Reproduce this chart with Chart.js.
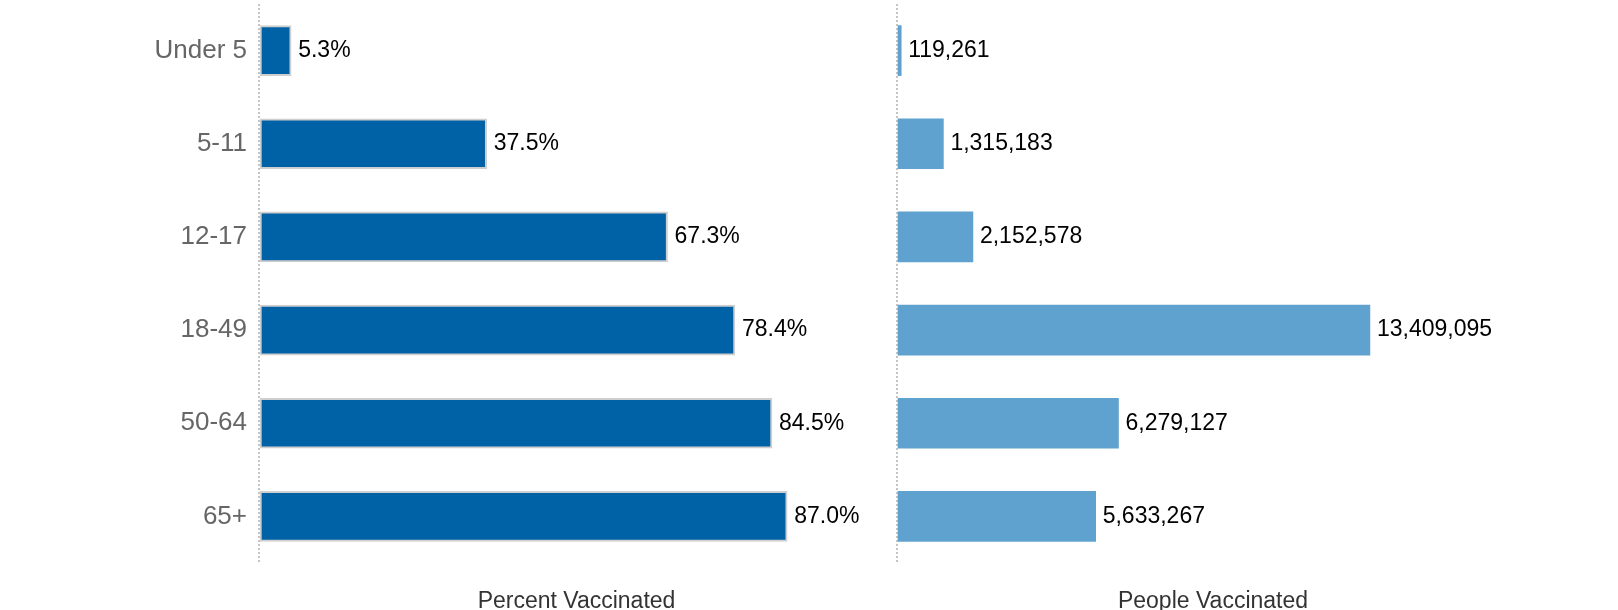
<!doctype html>
<html>

<head>
    <title>Vaccination by age</title>
    <script src="https://cdn.jsdelivr.net/npm/chart.js@4.4.1/dist/chart.umd.min.js"></script>
    <style>
        body { margin: 0; background: #fff; }
        #wrap { position: relative; width: 1618px; height: 610px; }
        #pctBox { position: absolute; left: 0; top: 0; width: 894px; height: 610px; }
        #pplBox { position: absolute; left: 887px; top: 0; width: 642px; height: 610px; }
    </style>
</head>

<body>
    <div id="wrap">
        <div id="pctBox"><canvas id="pctChart"></canvas></div>
        <div id="pplBox"><canvas id="pplChart"></canvas></div>
    </div>
    <script>
        var AGES = ['Under 5', '5-11', '12-17', '18-49', '50-64', '65+'];
        var PERCENT = [5.3, 37.5, 67.3, 78.4, 84.5, 87.0];
        var PEOPLE = [119261, 1315183, 2152578, 13409095, 6279127, 5633267];

        var FONT = "'Liberation Sans', Arial, Helvetica, sans-serif";

        // writes the value just past the end of each bar
        var barLabels = {
            id: 'barLabels',
            afterDatasetsDraw: function (chart, args, opts) {
                var ctx = chart.ctx;
                var meta = chart.getDatasetMeta(0);
                var data = chart.data.datasets[0].data;
                ctx.save();
                ctx.font = '23px ' + FONT;
                ctx.fillStyle = '#000';
                ctx.textAlign = 'left';
                ctx.textBaseline = 'middle';
                meta.data.forEach(function (bar, i) {
                    ctx.fillText(opts.fmt(data[i]), bar.x + 7, bar.y);
                });
                ctx.restore();
            }
        };

        function makeChart(id, values, color, border, xMax, title, showTicks, yWidth, fmt) {
            return new Chart(document.getElementById(id), {
                type: 'bar',
                data: {
                    labels: AGES,
                    datasets: [{
                        data: values,
                        backgroundColor: color,
                        borderColor: '#cfcfcf',
                        borderWidth: border,
                        borderSkipped: false,
                        barThickness: 50
                    }]
                },
                plugins: [barLabels],
                options: {
                    indexAxis: 'y',
                    responsive: true,
                    maintainAspectRatio: false,
                    animation: false,
                    layout: { padding: { top: 4, left: 0, right: 0, bottom: 0 } },
                    plugins: {
                        legend: { display: false },
                        tooltip: { enabled: false },
                        barLabels: { fmt: fmt }
                    },
                    scales: {
                        x: {
                            min: 0,
                            max: xMax,
                            // only the zero line is shown, dotted
                            grid: {
                                display: true,
                                drawTicks: false,
                                lineWidth: 2,
                                color: function (c) { return c.tick && c.tick.value === 0 ? '#c4c4c4' : 'rgba(0,0,0,0)'; }
                            },
                            border: { display: false, dash: [2, 2] },
                            ticks: { display: false },
                            title: {
                                display: true,
                                text: title,
                                color: '#333',
                                font: { family: FONT, size: 23, lineHeight: 1 },
                                padding: { top: 24, bottom: -3 }
                            },
                            afterFit: function (s) { s.height = 47; }
                        },
                        y: {
                            grid: { display: false, drawTicks: false },
                            border: { display: false },
                            ticks: {
                                display: showTicks,
                                color: '#666',
                                padding: 12,
                                font: { family: FONT, size: 26 }
                            },
                            afterFit: function (s) {
                                s.width = yWidth;
                                s.paddingTop = 0;
                                s.paddingBottom = 0;
                            }
                        }
                    }
                }
            });
        }

        makeChart('pctChart', PERCENT, '#0062a6', 2, 104.6, 'Percent Vaccinated', true, 259,
            function (v) { return v.toFixed(1) + '%'; });
        makeChart('pplChart', PEOPLE, '#5fa2cf', 0, 17920000, 'People Vaccinated', false, 10,
            function (v) { return v.toLocaleString('en-US'); });
    </script>
</body>

</html>
